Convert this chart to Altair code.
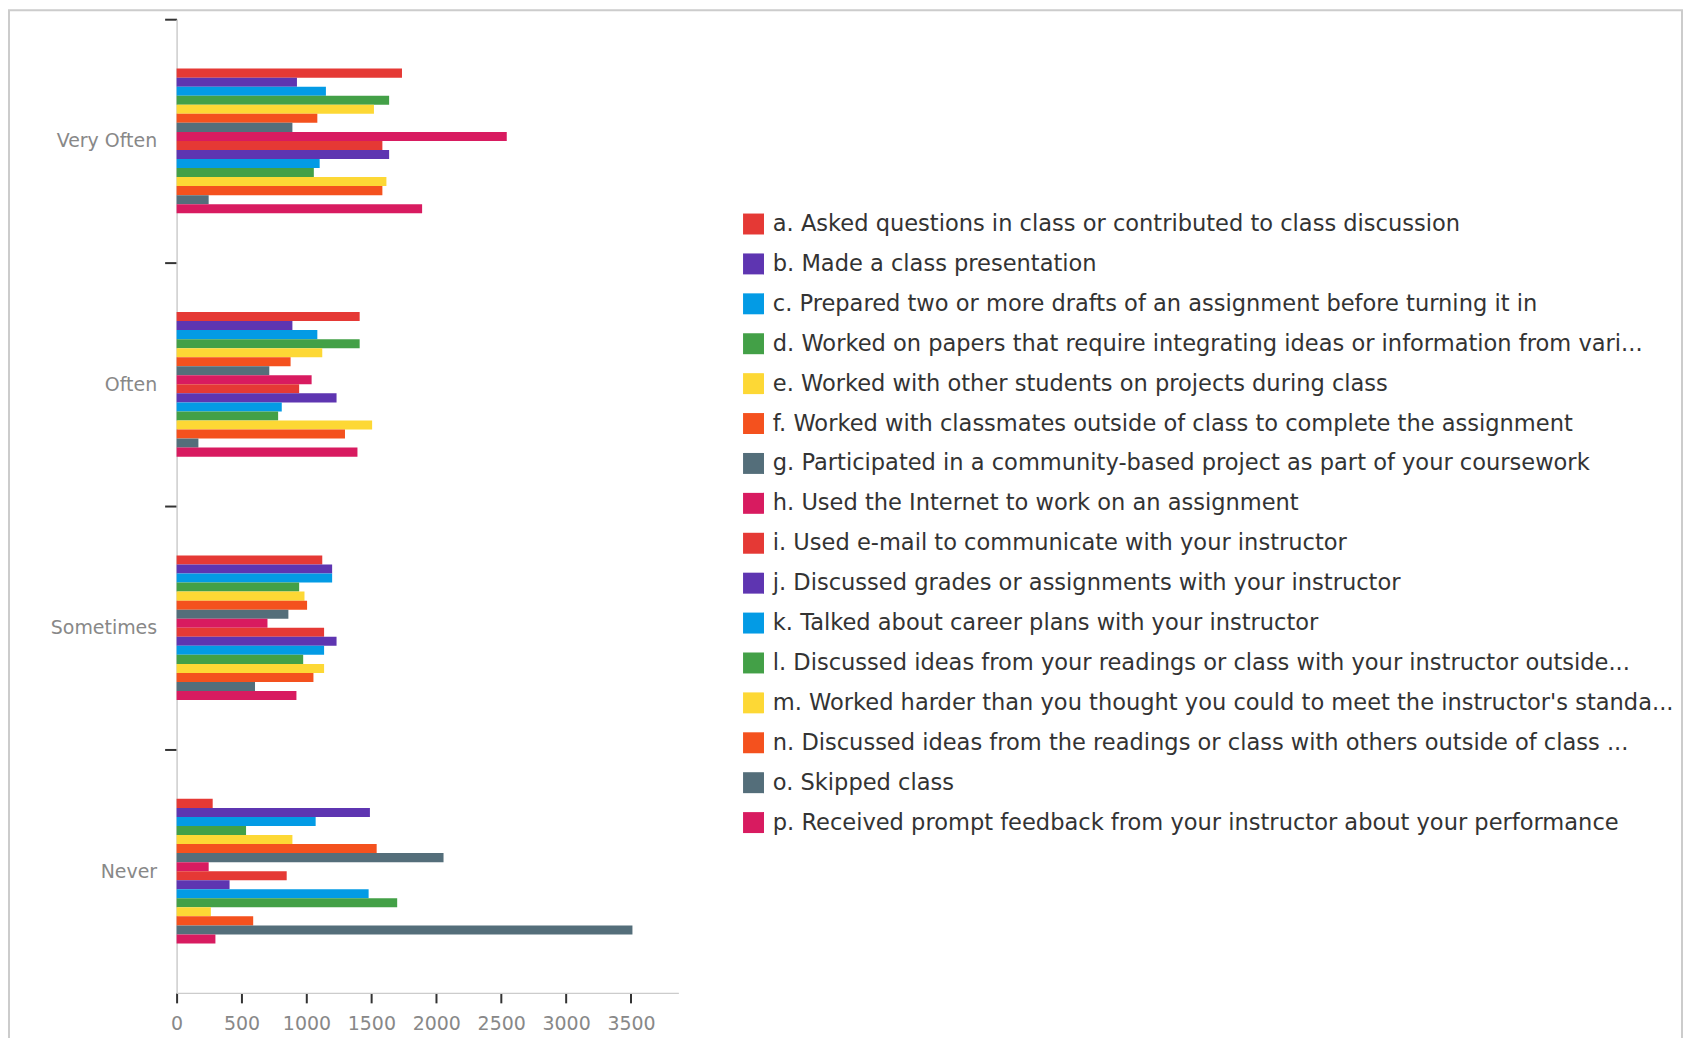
import altair as alt
import pandas as pd

categories = ["Very Often", "Often", "Sometimes", "Never"]

items = [
    "a. Asked questions in class or contributed to class discussion",
    "b. Made a class presentation",
    "c. Prepared two or more drafts of an assignment before turning it in",
    "d. Worked on papers that require integrating ideas or information from vari...",
    "e. Worked with other students on projects during class",
    "f. Worked with classmates outside of class to complete the assignment",
    "g. Participated in a community-based project as part of your coursework",
    "h. Used the Internet to work on an assignment",
    "i. Used e-mail to communicate with your instructor",
    "j. Discussed grades or assignments with your instructor",
    "k. Talked about career plans with your instructor",
    "l. Discussed ideas from your readings or class with your instructor outside...",
    "m. Worked harder than you thought you could to meet the instructor's standa...",
    "n. Discussed ideas from the readings or class with others outside of class ...",
    "o. Skipped class",
    "p. Received prompt feedback from your instructor about your performance",
]

very_often = [1736, 927, 1150, 1637, 1520, 1084, 892, 2543, 1585, 1637, 1102, 1057, 1616, 1585, 247, 1891]
often = [1410, 892, 1084, 1410, 1122, 878, 714, 1040, 944, 1232, 810, 782, 1506, 1297, 168, 1393]
sometimes = [1122, 1198, 1198, 944, 985, 1005, 861, 700, 1136, 1232, 1136, 975, 1136, 1054, 604, 923]
never = [278, 1489, 1071, 535, 892, 1541, 2056, 247, 848, 408, 1479, 1699, 264, 590, 3511, 299]

palette = ["#E53935", "#5E35B1", "#039BE5", "#43A047", "#FDD835", "#F4511E", "#546E7A", "#D81B60"]
x_ticks = [0, 500, 1000, 1500, 2000, 2500, 3000, 3500]

rows = []
for cat, vals in zip(categories, [very_often, often, sometimes, never]):
    for it, v in zip(items, vals):
        rows.append({"category": cat, "item": it, "count": v})
df = pd.DataFrame(rows)

FONT = "DejaVu Sans"
BAND_SHIFT = 49.5  # half of the inner padding of the category band

chart = alt.Chart(df).mark_bar().encode(
    y=alt.Y("category:N", sort=categories,
            scale=alt.Scale(paddingInner=0.406, paddingOuter=0.203, range=[9, 985]),
            axis=alt.Axis(title=None, orient="left", offset=-168,
                          bandPosition=0, tickOffset=-BAND_SHIFT, labelOffset=BAND_SHIFT,
                          tickSize=12, tickWidth=2,
                          tickColor="#333333", domainColor="#cccccc", domainWidth=1.5,
                          labelFont=FONT, labelFontSize=19, labelColor="#888888",
                          labelPadding=8, grid=False)),
    yOffset=alt.YOffset("item:N", sort=items,
                        scale=alt.Scale(paddingInner=0, paddingOuter=0)),
    x=alt.X("count:Q", scale=alt.Scale(domain=[0, 3865], nice=False, range=[168, 671]),
            axis=alt.Axis(title=None, orient="bottom", offset=-50, values=x_ticks, format="d",
                          tickSize=10, tickWidth=2, tickColor="#333333",
                          domainColor="#cccccc", domainWidth=1.5,
                          labelFont=FONT, labelFontSize=19, labelColor="#888888",
                          labelPadding=12, labelFlush=False, grid=False)),
    color=alt.Color("item:N", sort=items,
                    scale=alt.Scale(domain=items, range=palette + palette),
                    legend=alt.Legend(title=None, orient="none", legendX=735, legendY=203,
                                      symbolType="square", symbolSize=441, symbolStrokeWidth=0,
                                      symbolOpacity=1, labelFont=FONT, labelFontSize=22.6,
                                      labelColor="#333333", labelLimit=1200, rowPadding=17,
                                      labelOffset=8, padding=0)),
).properties(
    width=1677,
    height=1035,
    padding={"left": 1, "top": 1, "right": 1, "bottom": -6},
    autosize=alt.AutoSizeParams(type="none"),
).configure_view(stroke="#cccccc", strokeWidth=2)

chart.save("out.html", embed_options={"renderer": "svg", "actions": False})
